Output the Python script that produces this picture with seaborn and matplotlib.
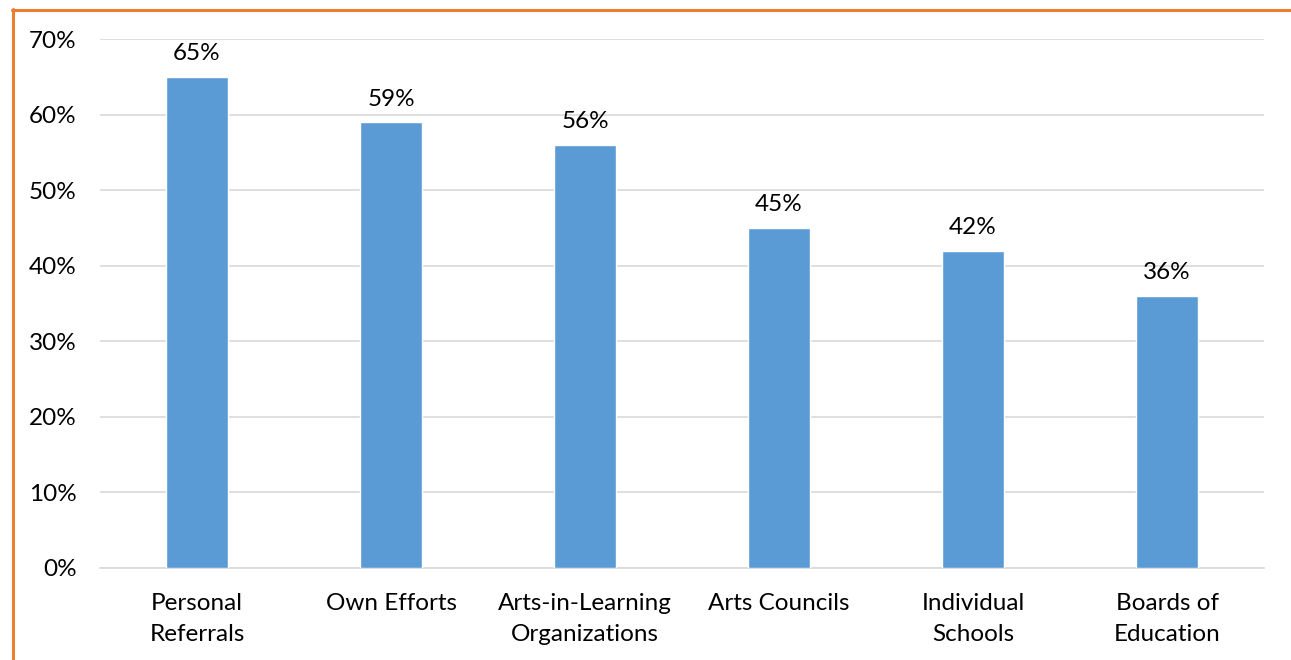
import matplotlib
matplotlib.use("Agg")
import matplotlib.pyplot as plt
from matplotlib.lines import Line2D
from matplotlib.ticker import FuncFormatter, MultipleLocator
import seaborn as sns
import pandas as pd

categories = ["Personal\nReferrals", "Own Efforts", "Arts-in-Learning\nOrganizations",
              "Arts Councils", "Individual\nSchools", "Boards of\nEducation"]
shares = [65, 59, 56, 45, 42, 36]

df = pd.DataFrame({"source": categories, "share": shares})

sns.set_theme(style="white")
plt.rcParams["font.family"] = ["Lato", "DejaVu Sans"]

FS = 17.5

fig = plt.figure(figsize=(12.91, 6.60), dpi=100)
ax = fig.add_axes([100 / 1291, 1 - 568 / 660, 1164 / 1291, (568 - 39) / 660])

sns.barplot(data=df, x="source", y="share", color="#5B9BD5", width=0.32,
            saturation=1, ax=ax, zorder=3)

ax.set_ylim(0, 70)
ax.yaxis.set_major_locator(MultipleLocator(10))
ax.yaxis.set_major_formatter(FuncFormatter(lambda v, _: f"{v:.0f}%"))
ax.grid(axis="y", color="#D9D9D9", linewidth=1.2, zorder=0)
ax.set_axisbelow(True)
for side in ["top", "right", "left"]:
    ax.spines[side].set_visible(False)
ax.spines["bottom"].set_color("#D9D9D9")
ax.spines["bottom"].set_linewidth(1.2)
ax.set_xlabel("")
ax.set_ylabel("")
ax.tick_params(axis="y", length=0, pad=17, labelsize=FS, colors="#000000")
ax.tick_params(axis="x", length=0, pad=18, labelsize=FS, colors="#000000")
for lbl in ax.get_xticklabels():
    lbl.set_linespacing(1.6)

for i, v in enumerate(shares):
    ax.annotate(f"{v}%", (i, v), xytext=(0, 9), textcoords="offset points",
                ha="center", va="bottom", fontsize=FS, color="#000000")

# Orange frame on the left and top edges
frame = "#ED7D31"
fig.add_artist(Line2D([12.5 / 1291, 12.5 / 1291], [0, 1 - 9 / 660], color=frame,
                      linewidth=2.2, transform=fig.transFigure))
fig.add_artist(Line2D([11.5 / 1291, 1], [1 - 10 / 660, 1 - 10 / 660], color=frame,
                      linewidth=2.2, transform=fig.transFigure))

fig.savefig("out.png", dpi=100)
